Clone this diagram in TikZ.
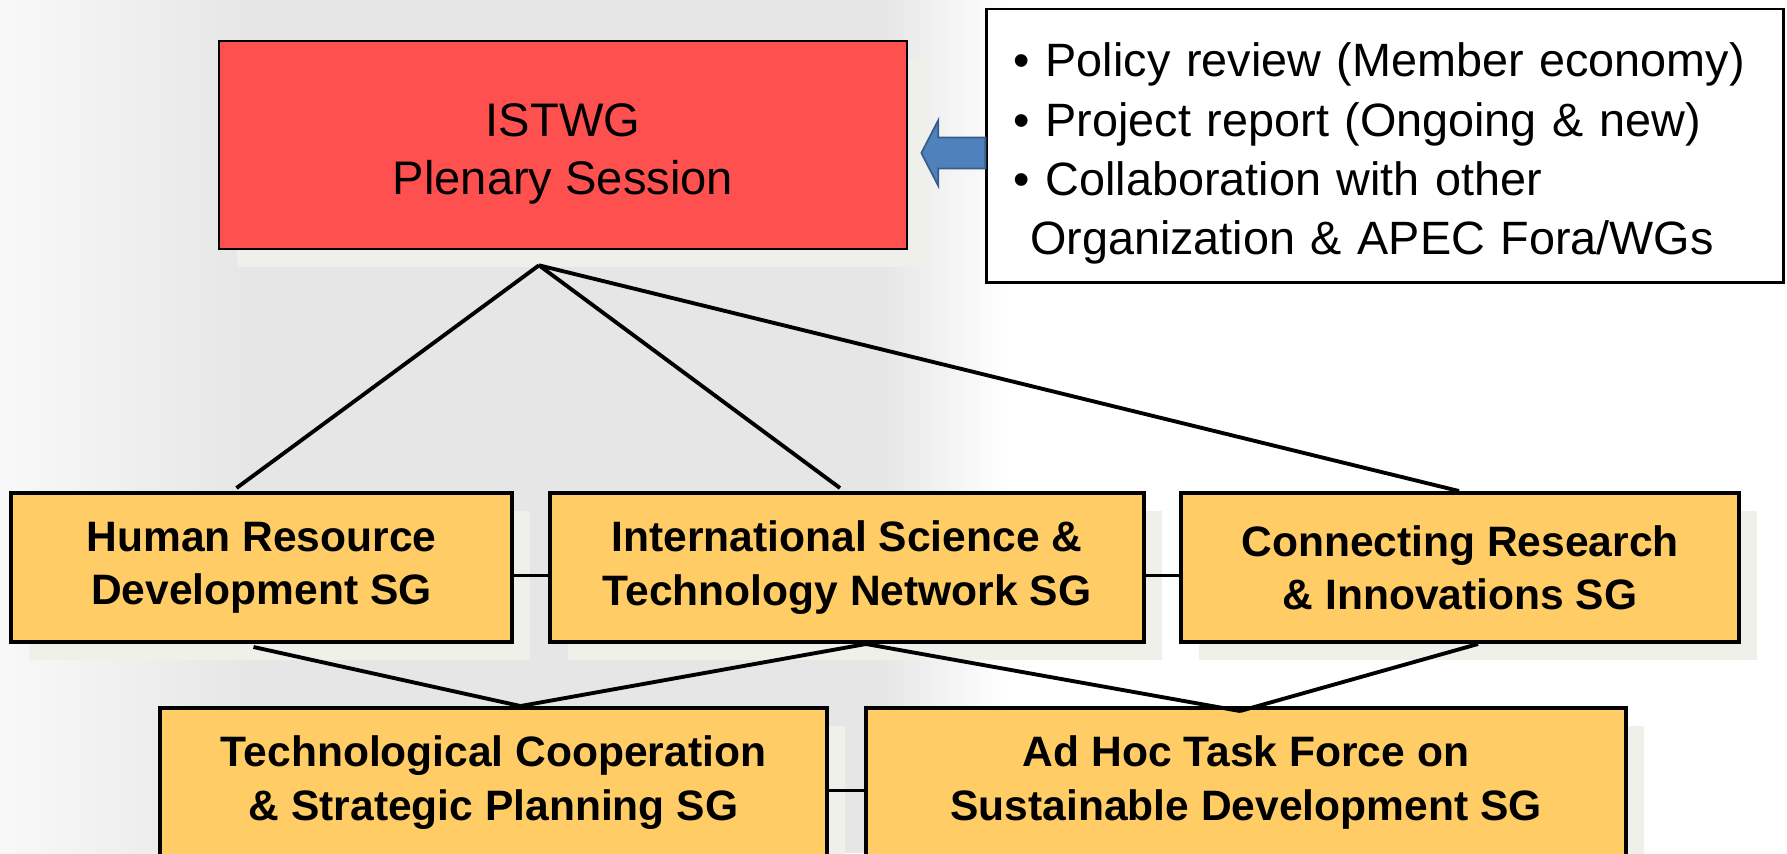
\documentclass[tikz,border=0pt]{standalone}
\usepackage{fontspec}
\setmainfont{Liberation Sans}
\usepackage{tikz}
\usetikzlibrary{
    calc,
    shadows
}
\definecolor{plenaryred}{RGB}{255,80,80}
\definecolor{sgorange}{RGB}{255,204,102}
\definecolor{shadowgray}{RGB}{240,240,234}
\definecolor{arrowblue}{RGB}{79,129,189}
\definecolor{arrowedge}{RGB}{56,93,138}
\definecolor{bggray}{RGB}{230,230,230}
\tikzset{
    boxshadow/.style={drop shadow={shadow xshift=0.18cm, shadow yshift=-0.18cm, fill=shadowgray, opacity=1}},
    plenarybox/.style={draw=black, line width=0.7pt, fill=plenaryred, boxshadow, minimum width=6.88cm, minimum height=2.08cm},
    plenarytext/.style={align=center, font=\fontsize{13.4}{16.3}\selectfont},
    sgbox/.style={draw=black, line width=1.1pt, fill=sgorange, boxshadow, minimum height=1.49cm, align=center, font=\fontsize{12.1}{15.2}\selectfont\bfseries},
    notebox/.style={draw=black, line width=0.8pt, fill=white, minimum width=7.96cm, minimum height=2.73cm},
    notetext/.style={text width=7.42cm, align=left, font=\fontsize{13.3}{16.8}\selectfont},
    link/.style={draw=black, line width=1.1pt}
}

\begin{document}
\begin{tikzpicture}[x=0.01cm, y=-0.01cm]
                        \useasboundingbox (0, 0) rectangle (1787, 853);
                        % background
                        \fill[white] (0, 0) rectangle (1787, 853);
                        \fill[bggray] (250, 0) rectangle (880, 853);
                        \shade[left color=gray!5, right color=bggray] (0, 0) rectangle (250, 853);
                        \shade[left color=bggray, right color=white] (880, 0) rectangle (1010, 853);
                        % boxes
                        \node[plenarybox] (plenary) at (563, 145) {};
                        \node[plenarytext] (plenarylabel) at ($(plenary.center)+(0, 9)$) {ISTWG\\Plenary Session};
                        \node[notebox] (notes) at (1385, 145.5) {};
                        \node[notetext] (noteslabel) at ($(notes.center)+(0, 8)$) {• Policy review (Member economy)\\• Project report (Ongoing \& new)\\• Collaboration with other\\\phantom{•}Organization \& APEC Fora/WGs};
                        \node[sgbox, minimum width=5.01cm] (hrd) at (261.5, 567.5) {Human Resource\\Development SG};
                        \node[sgbox, minimum width=5.94cm] (istn) at (847, 567.5) {International Science \&\\Technology Network SG};
                        \node[sgbox, minimum width=5.58cm] (cri) at (1460, 567.5) {Connecting Research\\\& Innovations SG};
                        \node[sgbox, minimum width=6.67cm] (tcsp) at (493.5, 782.5) {Technological Cooperation\\\& Strategic Planning SG};
                        \node[sgbox, minimum width=7.60cm] (ahtf) at (1246, 782.5) {Ad Hoc Task Force on\\Sustainable Development SG};
                        % block arrow
                        \filldraw[fill=arrowblue, draw=arrowedge, line width=0.5pt]
                        ($(notes.west)+(0, -8)$) -- ++(-47, 0) -- ++(0, -17.5) -- ($(notes.west)+(-64, 7.5)$)
                        -- ($(notes.west)+(-47, 40.5)$) -- ++(0, -17.5) -- ($(notes.west)+(0, 23)$) -- cycle;
                        % junction points
                        \coordinate (apex) at ($(plenary.south)+(-24, 15)$);
                        \coordinate (hrdin) at ($(hrd.north)+(-25, -3)$);
                        \coordinate (istnin) at ($(istn.north)+(-7, -3)$);
                        \coordinate (criin) at ($(cri.north)+(-1, 0)$);
                        \coordinate (hrdout) at ($(hrd.south)+(-8, 3)$);
                        \coordinate (istnout) at ($(istn.south)+(19, 0)$);
                        \coordinate (criout) at ($(cri.south)+(18, 0)$);
                        \coordinate (tcspin) at ($(tcsp.north)+(27, 0)$);
                        \coordinate (ahtfin) at ($(ahtf.north)+(-6, 5)$);
                        \draw[link]
                        (apex) edge (hrdin) (apex) edge (istnin) (apex) edge (criin)
                        (hrdout) edge (tcspin) (istnout) edge (tcspin)
                        (istnout) edge (ahtfin) (criout) edge (ahtfin)
                        ([yshift=-0.08cm]hrd.east) edge ([yshift=-0.08cm]istn.west)
                        ([yshift=-0.08cm]istn.east) edge ([yshift=-0.08cm]cri.west)
                        ([yshift=-0.08cm]tcsp.east) edge ([yshift=-0.08cm]ahtf.west);
                    \end{tikzpicture}
\end{document}
